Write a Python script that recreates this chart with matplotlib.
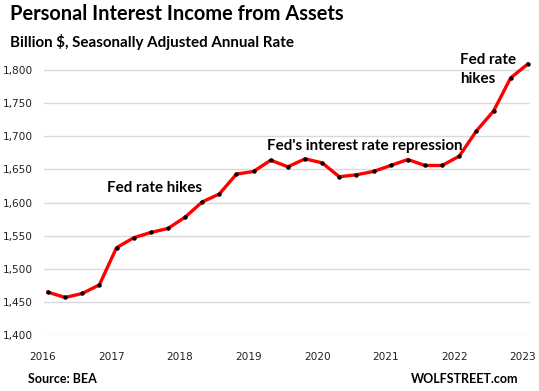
import numpy as np
import matplotlib.pyplot as plt
import matplotlib.transforms as mtransforms

# kwartalnie, 2016 Q1 - 2023 Q1
values = [1465, 1457, 1463, 1476, 1532, 1547, 1555, 1561,
          1578, 1601, 1613, 1643, 1647, 1664, 1654, 1666,
          1660, 1639, 1642, 1647, 1656, 1665, 1656, 1656,
          1670, 1708, 1738, 1788, 1809]
start_year = 2016
years = list(range(2016, 2024))
yticks = [1400, 1450, 1500, 1550, 1600, 1650, 1700, 1750, 1800]

x = start_year + np.arange(len(values)) * 0.25

plt.rcParams['font.family'] = ['Lato', 'DejaVu Sans']

fig = plt.figure(figsize=(5.39, 3.91), dpi=100)
ax = fig.add_axes([0.0816, 0.1425, 0.9014, 0.704])

ax.plot(x, values, color='#ff0000', lw=2.4, zorder=3, clip_on=False)
ax.plot(x, values, 'o', color='black', ms=2.2, zorder=4, clip_on=False)

ax.set_xlim(2015.942, 2023.03)
ax.set_ylim(1400, 1815)
ax.set_xticks(years)
ax.set_xticklabels([str(y) for y in years], family='DejaVu Sans')
ax.set_yticks(yticks)
ax.set_yticklabels([f'{v:,}' for v in yticks], family='DejaVu Sans')
ax.yaxis.grid(True, color='#d9d9d9', lw=1)
ax.set_axisbelow(True)
for s in ax.spines.values():
    s.set_visible(False)
ax.tick_params(length=0, colors='#222222', labelsize=7.6)
ax.tick_params(axis='y', pad=8)
ax.tick_params(axis='x', pad=12)
off = mtransforms.ScaledTranslation(-5 / 100, 0, fig.dpi_scale_trans)
for lab in ax.get_xticklabels():
    lab.set_transform(lab.get_transform() + off)

fig.text(10 / 539, 1 - 14 / 391, 'Personal Interest Income from Assets',
         fontsize=14.4, fontweight='bold', va='center', ha='left')
fig.text(10 / 539, 1 - 42 / 391, 'Billion $, Seasonally Adjusted Annual Rate',
         fontsize=10.9, fontweight='bold', va='center', ha='left')

ax.text(2016.86, 1622, 'Fed rate hikes', fontsize=10.9, fontweight='bold',
        va='center', ha='left')
ax.text(2019.19, 1686, "Fed's interest rate repression", fontsize=10.9,
        fontweight='bold', va='center', ha='left')
ax.text(2022.01, 1800, 'Fed rate\nhikes', fontsize=10.9, fontweight='bold',
        va='center', ha='left', linespacing=1.45)

fig.text(28 / 539, 1 - 379 / 391, 'Source: BEA', fontsize=9,
         fontweight='bold', va='center', ha='left')
fig.text(518 / 539, 1 - 379 / 391, 'WOLFSTREET.com', fontsize=9,
         fontweight='bold', va='center', ha='right')

fig.savefig('out.png', dpi=100)
